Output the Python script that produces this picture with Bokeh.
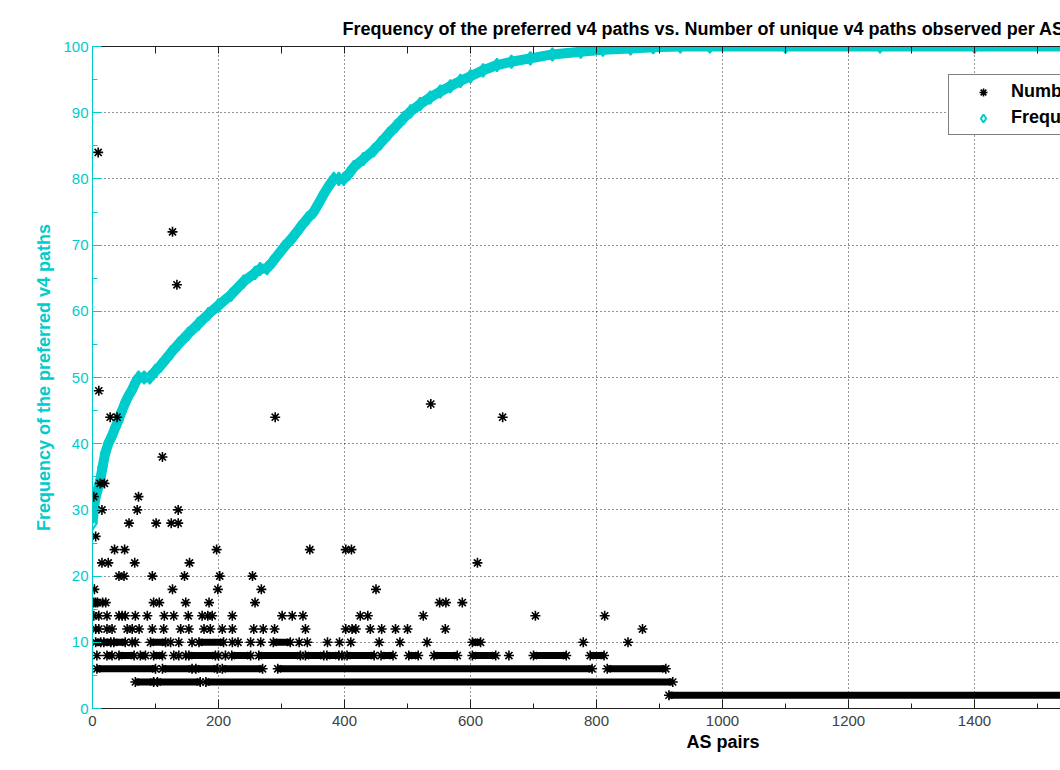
from bokeh.plotting import figure
from bokeh.models import (Range1d, SingleIntervalTicker, FixedTicker, LinearAxis,
                          Legend, LegendItem, Title)
from bokeh.embed import file_html
from bokeh.resources import INLINE

# ---------------- data ----------------
title_text = ("Frequency of the preferred v4 paths vs. Number of unique v4 "
              "paths observed per AS pair")
x_label = "AS pairs"
y_label = "Frequency of the preferred v4 paths"
series_count = "Number of unique v4 paths observed per AS pair"
series_freq = "Frequency of the preferred v4 paths"

# Frequency of the preferred v4 paths (cyan diamonds), sorted by AS pair
freq_x = [0, 1, 2, 4, 8, 12, 16, 20, 25, 31, 36, 41, 46, 52, 57, 62, 68, 73,
          82, 91, 100, 108, 115, 125, 137, 152, 168, 184, 200, 220, 240, 258,
          266, 277, 286, 304, 318, 330, 341, 351, 359, 367, 375, 383, 391,
          399, 407, 415, 430, 446, 457, 470, 482, 494, 505, 520, 536, 552,
          568, 584, 600, 620, 642, 665, 695, 730, 775, 810, 854, 890, 933,
          980, 1100, 1250, 1400, 1560]
freq_y = [28, 29, 30, 31.5, 33, 34.4, 36.5, 38.5, 40, 41.2, 42.4, 43.5, 44.8,
          46.2, 47.2, 48, 49.2, 50, 50, 50, 51, 51.8, 52.6, 53.8, 55.1, 56.6,
          58.1, 59.6, 60.9, 62.5, 64.5, 65.8, 66.4, 66.5, 67.5, 69.7, 71.2,
          72.7, 74, 75, 76.3, 77.7, 78.9, 80, 80, 80, 80.8, 81.8, 83, 84.3,
          85.4, 86.8, 88, 89.2, 90.2, 91.3, 92.3, 93.2, 94, 94.8, 95.5, 96.4,
          97.2, 97.7, 98.2, 98.8, 99.2, 99.5, 99.7, 99.9, 100, 100, 100, 100,
          100, 100]

# Number of unique v4 paths (black asterisks): isolated points per value
iso_8 = [7, 129, 137, 148, 200, 211, 396, 661]
iso_10 = [63, 68, 124, 137, 158, 222, 231, 251, 267, 328, 341, 373, 392, 410,
          455, 488, 531, 779, 850]
iso_12 = [5, 10, 23, 31, 55, 63, 74, 95, 113, 140, 153, 177, 187, 206, 222,
          256, 271, 289, 338, 402, 412, 418, 441, 459, 481, 500, 560, 873]
iso_14 = [2, 10, 23, 42, 47, 52, 68, 87, 114, 129, 152, 174, 183, 190, 222,
          301, 317, 334, 425, 437, 525, 703, 813]
iso_16 = [2, 5, 8, 16, 21, 97, 106, 148, 185, 258, 551, 561, 587]
iso_18 = [3, 127, 199, 268, 450]
iso_20 = [42, 50, 95, 146, 202, 254]
iso_22 = [15, 25, 67, 154, 611]
iso_24 = [35, 51, 197, 345, 402, 411]
iso_26 = [5]
iso_28 = [58, 101, 125, 136]
iso_30 = [15, 71, 136]
iso_32 = [2, 73]
iso_34 = [12, 19]
iso_38 = [111]
iso_44 = [28, 39, 290, 651]
iso_46 = [537]
iso_48 = [10]
iso_64 = [134]
iso_72 = [127]
iso_84 = [9]
iso_groups = [(8, iso_8), (10, iso_10), (12, iso_12), (14, iso_14),
              (16, iso_16), (18, iso_18), (20, iso_20), (22, iso_22),
              (24, iso_24), (26, iso_26), (28, iso_28), (30, iso_30),
              (32, iso_32), (34, iso_34), (38, iso_38), (44, iso_44),
              (46, iso_46), (48, iso_48), (64, iso_64), (72, iso_72),
              (84, iso_84)]

# dense runs of consecutive AS pairs sharing the same value
run_level = [2, 4, 4, 4, 6, 6, 6, 6, 6, 6,
             8, 8, 8, 8, 8, 8, 8, 8, 8, 8, 8, 8, 8, 8, 8, 8,
             10, 10, 10, 10, 10, 10, 10]
run_start = [915, 68, 103, 180, 7, 111, 164, 206, 294, 817,
             23, 42, 76, 97, 153, 221, 264, 338, 372, 404, 458, 502, 542,
             603, 700, 790,
             5, 18, 34, 92, 169, 287, 603]
run_end = [1560, 97, 171, 921, 100, 158, 198, 270, 793, 910,
           31, 66, 84, 111, 195, 251, 330, 367, 391, 447, 477, 517, 579,
           640, 752, 812,
           13, 29, 52, 116, 208, 314, 616]

x_ticks_interval = 200
y_ticks_interval = 10
top_tick_positions = [0, 100, 200, 300, 400, 500, 600, 700, 800, 900, 1000,
                      1100, 1200, 1300, 1400, 1500]

# ---------------- styling ----------------
CYAN = "#00CCCC"
FONT = "Liberation Sans"

p = figure(width=1060, height=762,
           x_range=Range1d(0, 1536.5), y_range=Range1d(0, 100),
           output_backend="svg", toolbar_location=None,
           min_border_left=92, min_border_right=0,
           min_border_top=46, min_border_bottom=54)
p.background_fill_color = "white"
p.border_fill_color = "white"
p.outline_line_color = None

# title (the reference is cropped on the right, title starts at x=342)
p.title.text = title_text
p.title.align = "left"
p.title.offset = 250
p.title.text_font = FONT
p.title.text_font_size = "18px"
p.title.text_font_style = "bold"
p.title.text_color = "black"
p.title.standoff = 15

xt = SingleIntervalTicker(interval=x_ticks_interval, num_minor_ticks=2)
yt = SingleIntervalTicker(interval=y_ticks_interval, num_minor_ticks=2)

xa = p.xaxis[0]
xa.ticker = xt
xa.major_label_text_font = FONT
xa.major_label_text_font_size = "15px"
xa.major_label_text_color = "#404040"
xa.major_label_standoff = 7
xa.axis_line_color = "#202020"
xa.major_tick_line_color = "#202020"
xa.minor_tick_line_color = "#202020"
xa.major_tick_in = 9
xa.major_tick_out = 0
xa.minor_tick_in = 5
xa.minor_tick_out = 0

ya = p.yaxis[0]
ya.ticker = yt
ya.major_label_text_font = FONT
ya.major_label_text_font_size = "15px"
ya.major_label_text_color = CYAN
ya.major_label_standoff = 4
ya.axis_line_color = CYAN
ya.major_tick_line_color = CYAN
ya.minor_tick_line_color = CYAN
ya.major_tick_in = 9
ya.major_tick_out = 0
ya.minor_tick_in = 5
ya.minor_tick_out = 0
ya.axis_label = y_label
ya.axis_label_text_font = FONT
ya.axis_label_text_font_size = "18px"
ya.axis_label_text_font_style = "bold"
ya.axis_label_text_color = CYAN
ya.axis_label_standoff = 6

# top frame line with inward ticks (no labels)
top = LinearAxis(ticker=FixedTicker(ticks=[], minor_ticks=top_tick_positions),
                 major_tick_in=0, major_tick_out=0,
                 minor_tick_in=7, minor_tick_out=0,
                 axis_line_color="#202020", minor_tick_line_color="#202020")
p.add_layout(top, "above")

# x axis label, centred as in the (cropped) reference
xl = Title(text=x_label, align="left", offset=594, text_font=FONT,
           text_font_size="18px", text_font_style="bold",
           text_color="black", standoff=2)
p.add_layout(xl, "below")

for g in (p.xgrid[0], p.ygrid[0]):
    g.grid_line_color = "black"
    g.grid_line_dash = "1 3"
    g.grid_line_alpha = 0.85
    g.grid_line_width = 1
p.xgrid[0].ticker = xt
p.ygrid[0].ticker = yt

# ---------------- glyphs ----------------
p.line(freq_x, freq_y, line_width=10, line_color=CYAN)
dia = p.scatter(freq_x, freq_y, marker="diamond", size=13,
                fill_color=None, line_color=CYAN, line_width=2)

p.segment(x0=run_start, y0=run_level, x1=run_end, y1=run_level,
          line_color="black", line_width=7)

ast_x, ast_y = [], []
for lvl, xs in iso_groups:
    ast_x += xs
    ast_y += [lvl] * len(xs)
ast_x += run_start + run_end
ast_y += run_level + run_level
ast = p.scatter(ast_x, ast_y, marker="asterisk", size=10,
                line_color="black", line_width=1.6)

legend = Legend(items=[LegendItem(label=series_count, renderers=[ast]),
                       LegendItem(label=series_freq, renderers=[dia])],
                location=(856, 573), orientation="vertical",
                padding=6, spacing=5, margin=0,
                glyph_width=56, glyph_height=20, label_height=20,
                label_standoff=0,
                label_text_font=FONT, label_text_font_size="18px",
                label_text_font_style="bold", label_text_color="black",
                border_line_color="black", border_line_width=1,
                background_fill_color="white", background_fill_alpha=1)
p.add_layout(legend, "center")

open("out.html", "w").write(file_html(p, INLINE))
